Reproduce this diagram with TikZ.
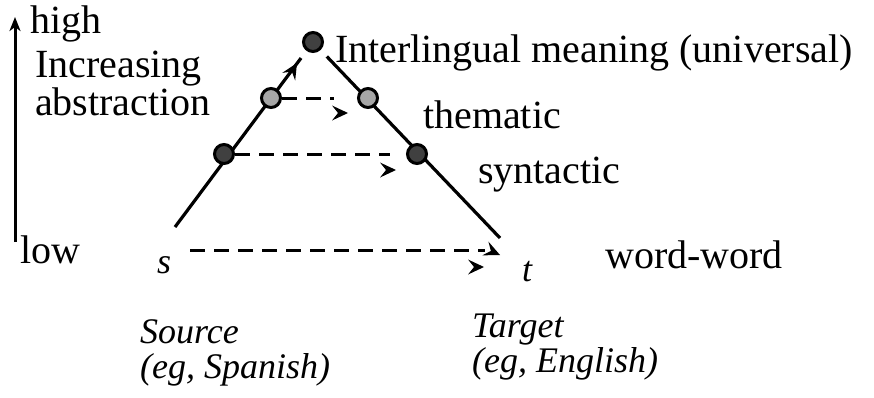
\documentclass[tikz,border=0pt]{standalone}
\usepackage{fontspec}
\setmainfont{Liberation Serif}
\usetikzlibrary{arrows.meta}
\definecolor{dotdark}{HTML}{404040}
\definecolor{dotlight}{HTML}{A6A6A6}
\tikzset{tiphead/.pic={\fill[black] (0,0) -- (-16,-7.5) -- (-10,0) -- (-16,7.5) -- cycle;}}
\begin{document}
\begin{tikzpicture}[x=1pt,y=-1pt,
  lbl/.style={anchor=base west,inner sep=0pt,font=\fontsize{40}{42}\selectfont},
  ilbl/.style={lbl,font=\fontsize{36}{38}\selectfont\itshape},
  dotd/.style={circle,draw=black,line width=3pt,fill=dotdark,minimum size=19pt,inner sep=0pt},
  dotl/.style={circle,draw=black,line width=3pt,fill=dotlight,minimum size=19pt,inner sep=0pt},
  side/.style={line width=3.2pt},
  dline/.style={line width=3pt,dash pattern=on 15pt off 9pt},
  vaxis/.style={line width=3pt,-{Stealth[length=14pt,width=11pt,inset=4pt]}}]
\useasboundingbox (0,0) rectangle (874,397);
% coordinates
\coordinate (lbot) at (175,227);
\coordinate (rbot) at (500,238);
\coordinate (ax0) at (15,242);
\coordinate (ax1) at (15,17);
% sides
\node[dotd] (top) at (313,42) {};
\draw[side,shorten >=9pt] (lbot) -- (top);
\draw[side,shorten >=9pt] (rbot) -- (top);
% vertical axis
\draw[vaxis] (ax0) -- (ax1);
% level dots
\node[dotl] (thl) at (271,98) {};
\node[dotl] (thr) at (368,98) {};
\node[dotd] (syl) at (224,154) {};
\node[dotd] (syr) at (417,154) {};
% dashed transfers
\coordinate (the) at (334,98);
\coordinate (sye) at (390,154);
\coordinate (ws) at (190,250);
\coordinate (we) at (485,250);
\draw[dline] (thl) -- (the);
\draw[dline] (syl) -- (sye);
\draw[dline] (ws) -- (we);
% arrowheads
\coordinate (a1e) at (348,113);
\coordinate (a2e) at (396,170);
\coordinate (a3e) at (484,267);
\coordinate (a4e) at (500,255);
\coordinate (a5e) at (297,63);
\pic at (a1e) {tiphead};
\pic at (a2e) {tiphead};
\pic at (a3e) {tiphead};
\pic[rotate=-24] at (a4e) {tiphead};
\pic[rotate=59] at (a5e) {tiphead};
% labels
\node[lbl] (high) at (30,33) {high};
\node[lbl] (incr) at (35,77) {Increasing};
\node[lbl] (abstr) at (35,115) {abstraction};
\node[lbl] (low) at (20,263) {low};
\node[lbl] (inter) at (335,62) {Interlingual meaning (universal)};
\node[lbl] (them) at (423,128) {thematic};
\node[lbl] (synt) at (478,183) {syntactic};
\node[lbl] (ww) at (605,268) {word-word};
\node[ilbl] (s) at (157,273) {s};
\node[ilbl] (t) at (522,281) {t};
\node[ilbl] (src) at (140,343) {Source};
\node[ilbl] (srceg) at (140,378) {(eg, Spanish)};
\node[ilbl] (tgt) at (472,337) {Target};
\node[ilbl] (tgteg) at (472,372) {(eg, English)};
\end{tikzpicture}
\end{document}
